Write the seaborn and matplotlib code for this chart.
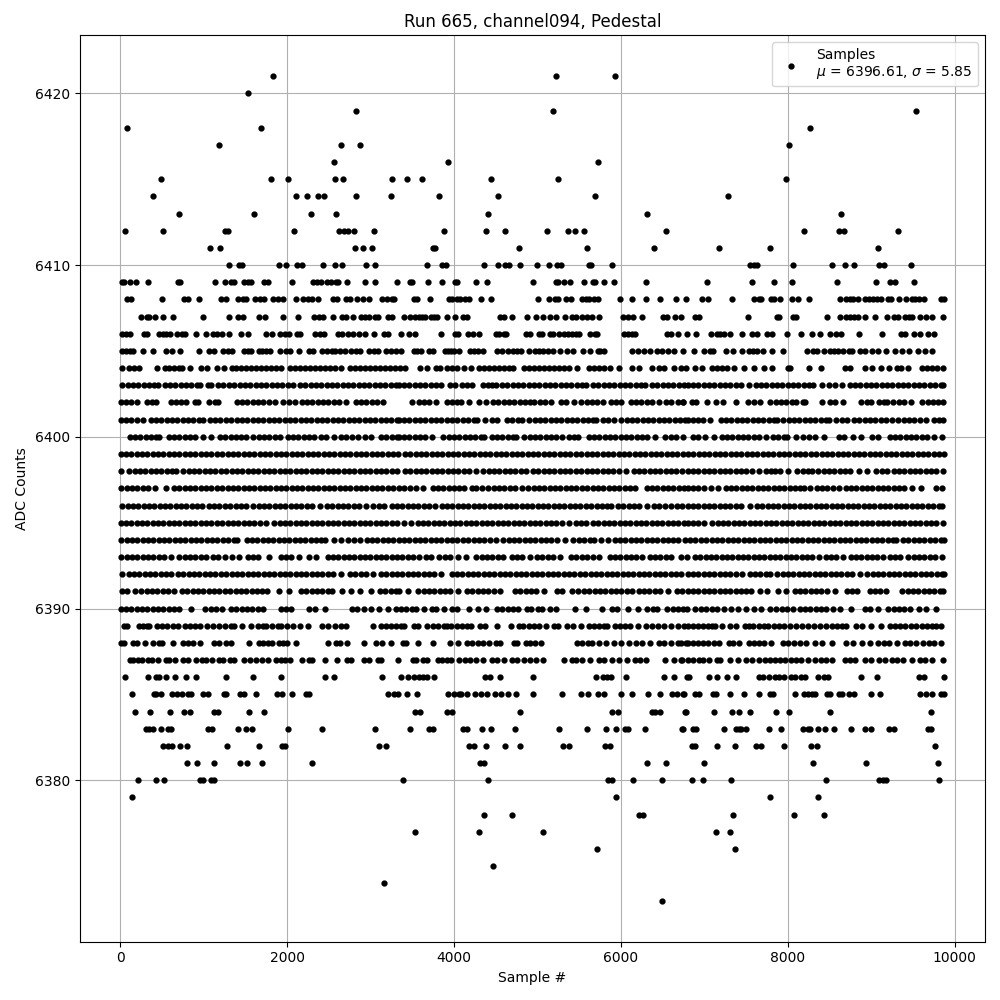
import matplotlib
matplotlib.use('Agg')
import matplotlib.pyplot as plt
import pandas as pd
import seaborn as sns

# sample numbers for each ADC level
s6421 = [1834, 5220, 5928]
s6420 = [1534]
s6419 = [2830, 5184, 9538]
s6418 = [82, 1690, 8266]
s6417 = [1186, 2650, 2878, 8014]
s6416 = [2566, 3924, 5724]
s6415 = [490, 1810, 2014, 2578, 2674, 3262, 3432, 3612, 4440, 5244, 7978]
s6414 = [394, 2110, 2242, 2374, 2446, 2830, 3250, 3816, 4524, 5688, 7282]
s6413 = [706, 1606, 2290, 2590, 4404, 6312, 8638]
s6412 = [58, 514, 1262, 1294, 2086, 2626, 2686, 2734, 2806, 3046, 3876, 4380, 4608, 5112, 5364, 5448, 5556, 6540, 8194, 8614, 8674, 9322]
s6411 = [1078, 1198, 2818, 2914, 3022, 3752, 3772, 4776, 5592, 6396, 7174, 7786, 9082]
s6410 = [1306, 1426, 1462, 1906, 1990, 2122, 2182, 2434, 2578, 2662, 2950, 3058, 3672, 3852, 3900, 4356, 4524, 4608, 4656, 4788, 4992, 5136, 5232, 5280, 5616, 5640, 5892, 7546, 7594, 7630, 8062, 8530, 8686, 8794, 9094, 9154, 9478]
s6409 = [22, 50, 122, 190, 334, 694, 722, 1138, 1258, 1330, 1366, 1486, 1534, 1570, 1726, 1774, 2062, 2314, 2362, 2410, 2482, 2530, 2590, 2614, 2722, 2938, 3058, 3322,
         3472, 3496, 3684, 3852, 4008, 4032, 4260, 4392, 4944, 5220, 5244, 5316, 5388, 5556, 5664, 5688, 5796, 5916, 6300,
         7030, 7570, 7834, 8050, 8590, 9058, 9226, 9286, 9514]
s6408 = [82, 130, 502, 766, 814, 946, 1210, 1270, 1414, 1474, 1510, 1618, 1678, 1726, 1834, 1894, 1954, 2110, 2194, 2254, 2302, 2374, 2554, 2602, 2710, 2758, 2842, 2914, 2986, 3142, 3202, 3262, 3286,
         3516, 3552, 3708, 3936, 3972, 4032, 4068, 4128, 4176, 4320, 4440, 5004, 5136, 5208, 5244, 5340, 5400, 5532, 5580, 5616, 5676, 5724, 5988, 6132, 6300, 6468, 6660, 6780,
         6970, 7042, 7330, 7594, 7654, 7678, 7798, 7834, 7906, 8050, 8122, 8254, 8626, 8698, 8746, 8782, 8842, 8926, 8974, 9022, 9070, 9118, 9202, 9238, 9334, 9418, 9490, 9526, 9574, 9634, 9838, 9868]
s6407 = [250, 322, 346, 418, 514, 634, 994, 1306, 1414, 1474, 1666, 1738, 1954, 2134, 2326, 2386, 2434, 2546, 2662, 2710, 2786, 2890, 2938, 2986, 3058, 3094, 3214, 3262,
         3396, 3468, 3528, 3576, 3612, 3648, 3720, 3756, 3792, 3912, 4008, 4104, 4152, 4548, 4596, 4692, 4872, 4980, 5064, 5148, 5220, 5328, 5412, 5460, 5532, 5592, 5652, 5736, 6024, 6084, 6144, 6252, 6504, 6552, 6648, 6720,
         6886, 6934, 7522, 7870, 7894, 8062, 8098, 8470, 8626, 8698, 8746, 8794, 8842, 8926, 9046, 9190, 9274, 9322, 9406, 9454, 9490, 9586, 9658, 9730, 9862]
s6406 = [22, 70, 118, 286, 322, 466, 514, 550, 598, 682, 742, 778, 910, 1030, 1114, 1162, 1222, 1306, 1450, 1534, 1750, 1822, 1918, 1978, 2026, 2122, 2158, 2338, 2398, 2446, 2614, 2662, 2734, 2794, 2866, 2938, 3046, 3166, 3214,
         3360, 3456, 3528, 3840, 4008, 4044, 4164, 4224, 4296, 4500, 4536, 4596, 4620, 4860, 4908, 5016, 5052, 5148, 5184, 5256, 5316, 5364, 5412, 5460, 5496, 5628, 5688, 5712, 6036, 6084, 6132, 6168, 6552, 6600, 6684,
         6790, 6898, 7078, 7150, 7186, 7234, 7306, 7450, 7570, 7630, 7750, 7810, 7990, 8158, 8290, 8386, 8506, 8578, 8638, 8854, 9130, 9358, 9406, 9514, 9586, 9682, 9754]
s6405 = [22, 70, 118, 154, 274, 394, 550, 622, 718, 946, 1066, 1126, 1234, 1294, 1342, 1486, 1534, 1570, 1666, 1702, 1750, 1798, 1918, 1990, 2038, 2146, 2266, 2314, 2422, 2482, 2542, 2578, 2638, 2698, 2770, 2830, 2878, 2986, 3046, 3094, 3190, 3250, 3310,
         3360, 3516, 3552, 3600, 3696, 3744, 3888, 3924, 3960, 3996, 4056, 4188, 4236, 4284, 4344, 4512, 4572, 4644, 4704, 4752, 4800, 4896, 4968, 5016, 5064, 5124, 5184, 5268, 5352, 5424, 5544, 5628, 5724, 5748, 5796, 6132, 6204, 6276, 6348, 6432, 6492, 6564, 6636, 6744,
         6874, 6994, 7066, 7102, 7258, 7342, 7450, 7534, 7582, 7630, 7702, 7810, 7942, 8230, 8302, 8350, 8434, 8506, 8554, 8602, 8662, 8734, 8770, 8866, 8926, 9010, 9082, 9178, 9286, 9370, 9454, 9562, 9646, 9730]
s6404 = [22, 110, 166, 230, 442, 534, 590, 650, 710, 742, 838, 966, 1038, 1166, 1250, 1334, 1390, 1450, 1510, 1570, 1630, 1690, 1750, 1810, 1870, 1930, 2034, 2090, 2150, 2210, 2270, 2330, 2390, 2450, 2510, 2570, 2650, 2754, 2810, 2870, 2930, 2990, 3050, 3110, 3170, 3230, 3290,
         3350, 3410, 3596, 3680, 3784, 3828, 3916, 3976, 4036, 4120, 4200, 4304, 4364, 4424, 4484, 4544, 4604, 4664, 4712, 4844, 4904, 4964, 5024, 5084, 5144, 5204, 5264, 5324, 5384, 5470, 5612, 5672, 5732, 5792, 5872, 5972, 6136, 6212, 6376, 6452, 6520, 6636, 6720, 6780,
         6886, 6974, 7086, 7146, 7206, 7266, 7350, 7474, 7590, 7718, 7810, 7998, 8022, 8254, 8394, 8682, 8750, 8922, 9010, 9114, 9210, 9314, 9358, 9446, 9614, 9674, 9734, 9790, 9862]
s6403 = [26, 90, 154, 218, 282, 346, 410, 450, 534, 598, 662, 726, 790, 854, 918, 958, 1054, 1090, 1174, 1238, 1302, 1366, 1430, 1494, 1558, 1622, 1686, 1750, 1814, 1878, 1942, 2006, 2070,
         2154, 2218, 2282, 2346, 2410, 2474, 2538, 2602, 2666, 2730, 2794, 2858, 2922, 2986, 3050, 3114, 3178, 3242, 3306, 3338, 3402, 3466, 3530, 3594, 3658, 3722, 3786, 3840, 3956, 4012, 4092, 4152, 4212,
         4348, 4412, 4456, 4500, 4576, 4640, 4704, 4768, 4832, 4896, 4960, 5024, 5088, 5152, 5216, 5280, 5344, 5408, 5472, 5536, 5580, 5664, 5728, 5792, 5856, 5920, 5984, 6048, 6112, 6176, 6240, 6292,
         6372, 6436, 6500, 6564, 6628, 6692, 6756, 6800, 6864, 6928, 6992, 7056, 7120, 7184, 7248, 7312, 7376, 7440, 7530, 7614, 7678, 7742, 7806, 7870, 7934, 7998, 8062, 8126, 8190, 8254, 8302, 8406, 8494, 8570, 8650,
         8742, 8806, 8870, 8934, 8998, 9062, 9126, 9190, 9254, 9318, 9382, 9446, 9510, 9574, 9638, 9702, 9766, 9830, 9862]
s6402 = [6, 66, 130, 198, 326, 378, 430, 606, 666, 726, 790, 894, 930, 1070, 1142, 1178, 1394, 1458, 1522, 1586, 1650, 1714, 1778, 1858, 1954, 2018, 2090, 2174, 2238, 2302, 2366, 2430, 2494, 2558, 2622, 2706, 2822, 2886, 2950, 3014, 3078, 3150,
         3492, 3584, 3644, 3704, 3780, 3912, 3976, 4040, 4080, 4184, 4300, 4380, 4468, 4532, 4596, 4660, 4724, 4788, 4852, 4916, 4960, 5036, 5096, 5160, 5284, 5348, 5440, 5524, 5588, 5652, 5716, 5780, 5880, 5944, 6000, 6116, 6180, 6244, 6308, 6372, 6460, 6536, 6604, 6684, 6740,
         6750, 6854, 6902, 7030, 7142, 7222, 7374, 7522, 7590, 7662, 7790, 7854, 7918, 7982, 8046, 8094, 8182, 8210, 8406, 8506, 8570, 8662, 8882, 8948, 8998, 9094, 9154, 9190, 9266, 9330, 9394, 9478, 9614, 9678, 9742, 9802, 9862]
s6401 = [8, 70, 134, 198, 278, 366, 430, 494, 558, 622, 686, 750, 814, 878, 942, 990, 1074, 1138, 1202, 1266, 1330, 1394, 1458, 1522, 1586, 1650, 1714, 1778, 1842, 1906, 1970, 2034, 2098, 2162, 2226, 2290, 2354, 2418, 2482, 2546, 2610, 2674, 2738, 2802, 2866, 2930, 2994, 3058, 3122, 3186, 3250, 3314,
         3338, 3402, 3466, 3530, 3594, 3658, 3722, 3786, 3850, 3914, 3978, 4042, 4106, 4170, 4234, 4272, 4368, 4452, 4520, 4636, 4700, 4764, 4820, 4904, 4968, 5032, 5096, 5160, 5224, 5288, 5352, 5416, 5480, 5544, 5608, 5660, 5700, 5784, 5848, 5920,
         6004, 6068, 6132, 6196, 6260, 6324, 6388, 6452, 6516, 6580, 6644, 6708, 6772, 6800, 6864, 6928, 6982, 7062, 7194, 7258, 7322, 7386, 7450, 7514, 7578, 7642, 7706, 7770, 7834, 7870, 7946, 8010, 8074, 8138, 8202, 8266, 8330, 8394, 8458, 8490, 8582, 8646, 8710,
         8794, 8858, 8922, 8986, 9050, 9114, 9178, 9250, 9326, 9390, 9454, 9518, 9582, 9658, 9750, 9806, 9862]
s6400 = [114, 178, 242, 306, 370, 430, 470, 582, 646, 710, 774, 838, 902, 990, 1094, 1194, 1258, 1322, 1386, 1450, 1502, 1594, 1658, 1722, 1786, 1850, 1918, 2006, 2070, 2134, 2198, 2262, 2318, 2406, 2470, 2558, 2646, 2710, 2774, 2850, 2934, 3010, 3126, 3190, 3254, 3318, 3342,
         3400, 3464, 3528, 3592, 3656, 3740, 3872, 3936, 4000, 4064, 4128, 4192, 4256, 4320, 4360, 4452, 4516, 4580, 4644, 4708, 4748, 4844, 4908, 4972, 5036, 5100, 5164, 5228, 5300, 5384, 5440, 5492, 5612, 5676, 5740, 5804, 5868, 5932, 5996, 6060, 6124, 6188, 6252, 6316, 6412, 6532, 6596, 6660, 6748,
         6866, 6930, 7006, 7110, 7206, 7270, 7334, 7398, 7462, 7526, 7590, 7654, 7742, 7822, 7886, 7950, 7990, 8098, 8186, 8250, 8322, 8430, 8614, 8678, 8782, 8882, 9014, 9086, 9222, 9286, 9350, 9414, 9478, 9542, 9606, 9670, 9758, 9842]
s6399 = [8, 70, 134, 198, 262, 326, 390, 454, 518, 582, 646, 710, 774, 838, 902, 966, 1030, 1094, 1158, 1222, 1286, 1350, 1414, 1478, 1542, 1606, 1670, 1734, 1798, 1862, 1926, 1990, 2054, 2118, 2182, 2246, 2310, 2374, 2438, 2502, 2566, 2630, 2694, 2758, 2822, 2886, 2950, 3014, 3078, 3142, 3206, 3270, 3334,
         3412, 3476, 3540, 3604, 3668, 3732, 3796, 3860, 3924, 3988, 4052, 4116, 4180, 4244, 4308, 4372, 4436, 4500, 4564, 4628, 4692, 4756, 4820, 4884, 4948, 5012, 5076, 5140, 5204, 5268, 5332, 5396, 5460, 5524, 5588, 5652, 5716, 5780, 5844, 5908, 5972, 6036, 6100, 6164, 6228, 6292, 6356, 6420, 6484, 6548, 6612, 6676, 6740, 6804,
         6868, 6932, 6996, 7060, 7124, 7188, 7252, 7316, 7380, 7444, 7508, 7572, 7636, 7700, 7764, 7828, 7892, 7956, 8020, 8084, 8148, 8212, 8276, 8340, 8404, 8468, 8532, 8596, 8660, 8724, 8788, 8852, 8916, 8980, 9044, 9108, 9172, 9236, 9300, 9364, 9428, 9492, 9556, 9620, 9684, 9748, 9812, 9866]
s6398 = [14, 110, 174, 238, 302, 366, 430, 494, 558, 622, 670, 758, 822, 886, 950, 1014, 1078, 1142, 1206, 1270, 1334, 1398, 1462, 1526, 1590, 1654, 1718, 1782, 1846, 1910, 1974, 2038, 2102, 2166, 2230, 2294, 2358, 2422, 2486, 2550, 2614, 2678, 2742, 2806, 2870, 2934, 2998, 3062, 3126, 3190, 3254, 3318,
         3412, 3476, 3540, 3604, 3668, 3732, 3796, 3860, 3924, 3988, 4052, 4116, 4180, 4260, 4352, 4416, 4480, 4544, 4608, 4672, 4736, 4800, 4860, 4948, 5012, 5076, 5140, 5204, 5268, 5332, 5396, 5460, 5524, 5588, 5652, 5716, 5780, 5844, 5908, 5972, 6060, 6152, 6216, 6280, 6344, 6408, 6472, 6536, 6600, 6664, 6728, 6800,
         6864, 6928, 6992, 7056, 7120, 7184, 7248, 7312, 7376, 7440, 7504, 7568, 7650, 7734, 7798, 7850, 7902, 7998, 8114, 8178, 8242, 8286, 8366, 8430, 8494, 8558, 8622, 8686, 8750, 8850, 8946, 9062, 9126, 9190, 9270, 9334, 9398, 9462, 9526, 9590, 9654, 9718, 9782, 9862]
s6397 = [14, 78, 142, 206, 270, 334, 418, 550, 646, 710, 774, 838, 902, 966, 1030, 1094, 1158, 1222, 1286, 1350, 1414, 1478, 1542, 1606, 1670, 1734, 1798, 1862, 1926, 1990, 2054, 2118, 2182, 2246, 2310, 2374, 2438, 2502, 2566, 2630, 2694, 2758, 2822, 2886, 2950, 3014, 3078, 3142, 3206, 3270, 3342,
         3406, 3470, 3548, 3632, 3744, 3808, 3872, 3936, 4000, 4064, 4120, 4220, 4260, 4332, 4412, 4476, 4540, 4604, 4668, 4732, 4812, 4892, 4956, 5020, 5084, 5148, 5212, 5276, 5340, 5404, 5468, 5532, 5596, 5660, 5724, 5788, 5852, 5916, 5980, 6044, 6108, 6164, 6308, 6372, 6436, 6500, 6564, 6628, 6692, 6756, 6800,
         6864, 6928, 6998, 7074, 7158, 7254, 7318, 7382, 7446, 7510, 7574, 7638, 7702, 7766, 7830, 7894, 7958, 8022, 8086, 8150, 8190, 8266, 8346, 8410, 8474, 8538, 8610, 8694, 8758, 8822, 8886, 8950, 9014, 9078, 9142, 9206, 9270, 9334, 9398, 9490, 9594, 9782, 9850]
s6396 = [26, 90, 154, 218, 282, 346, 410, 474, 538, 602, 666, 730, 794, 858, 922, 982, 1062, 1126, 1190, 1254, 1318, 1382, 1446, 1510, 1594, 1658, 1722, 1786, 1850, 1914, 1978, 2042, 2106, 2170, 2234, 2298, 2398, 2478, 2542, 2606, 2670, 2734, 2798, 2862, 2942, 3034, 3096, 3158, 3254, 3318,
         3382, 3446, 3510, 3574, 3638, 3702, 3772, 3852, 3916, 3980, 4044, 4108, 4172, 4236, 4300, 4364, 4428, 4492, 4556, 4620, 4684, 4748, 4812, 4876, 4940, 5004, 5068, 5132, 5196, 5260, 5324, 5388, 5452, 5516, 5580, 5644, 5708, 5772, 5836, 5880, 5964, 6028, 6092, 6156, 6220, 6316, 6396, 6460, 6524, 6604, 6668, 6732, 6800,
         6864, 6928, 6992, 7056, 7120, 7184, 7248, 7312, 7376, 7440, 7550, 7630, 7694, 7758, 7822, 7886, 7950, 8014, 8078, 8142, 8206, 8270, 8334, 8398, 8462, 8526, 8590, 8654, 8718, 8782, 8846, 8910, 8974, 9038, 9102, 9166, 9230, 9294, 9358, 9422, 9486, 9550, 9614, 9678, 9742, 9806, 9850]
s6395 = [6, 70, 134, 198, 262, 326, 390, 454, 518, 582, 646, 710, 774, 838, 902, 966, 1030, 1094, 1158, 1222, 1286, 1350, 1414, 1478, 1542, 1606, 1670, 1750, 1846, 1910, 1974, 2038, 2102, 2166, 2230, 2294, 2358, 2422, 2486, 2550, 2614, 2678, 2742, 2806, 2870, 2934, 2998, 3062, 3126, 3190, 3254, 3318,
         3404, 3484, 3564, 3628, 3692, 3756, 3820, 3884, 3948, 4012, 4076, 4140, 4204, 4268, 4332, 4396, 4460, 4524, 4588, 4652, 4716, 4780, 4844, 4908, 4972, 5036, 5100, 5164, 5228, 5292, 5380, 5464, 5520, 5580, 5664, 5728, 5792, 5856, 5920, 5984, 6048, 6112, 6176, 6240, 6304, 6368, 6432, 6496, 6560, 6624, 6688, 6752, 6800,
         6864, 6928, 7000, 7094, 7158, 7222, 7286, 7350, 7414, 7478, 7542, 7606, 7670, 7734, 7798, 7862, 7926, 7990, 8054, 8118, 8182, 8246, 8310, 8374, 8438, 8502, 8566, 8630, 8694, 8758, 8822, 8886, 8950, 9014, 9078, 9142, 9206, 9270, 9334, 9398, 9462, 9526, 9590, 9654, 9718, 9782, 9862]
s6394 = [14, 78, 142, 206, 270, 334, 398, 462, 526, 590, 654, 718, 782, 846, 910, 974, 1038, 1102, 1166, 1230, 1294, 1358, 1398, 1514, 1578, 1642, 1706, 1770, 1834, 1898, 1962, 2026, 2090, 2154, 2218, 2282, 2346, 2410, 2458, 2562, 2650, 2734, 2800, 2870, 2954, 3018, 3082, 3146, 3210, 3274, 3338,
         3402, 3466, 3530, 3594, 3658, 3722, 3786, 3850, 3914, 3978, 4042, 4106, 4170, 4234, 4298, 4362, 4426, 4508, 4592, 4656, 4720, 4784, 4848, 4912, 4976, 5040, 5104, 5168, 5232, 5328, 5432, 5496, 5560, 5624, 5672, 5756, 5840, 5924, 5988, 6052, 6116, 6180, 6244, 6308, 6372, 6436, 6500, 6564, 6628, 6680, 6764,
         6830, 6894, 6958, 7022, 7086, 7150, 7214, 7278, 7342, 7406, 7470, 7534, 7598, 7662, 7726, 7790, 7854, 7918, 7982, 8046, 8110, 8174, 8238, 8302, 8366, 8430, 8494, 8558, 8622, 8686, 8750, 8814, 8878, 8942, 9006, 9070, 9134, 9198, 9262, 9302, 9382, 9446, 9510, 9574, 9638, 9702, 9766, 9830, 9870]
s6393 = [14, 78, 142, 206, 270, 334, 398, 462, 526, 610, 710, 774, 838, 902, 966, 1030, 1110, 1178, 1254, 1336, 1418, 1534, 1590, 1650, 1782, 1926, 1990, 2050, 2142, 2262, 2350, 2486, 2550, 2614, 2678, 2742, 2806, 2870, 2934, 2998, 3062, 3126, 3190, 3254, 3318,
         3382, 3446, 3510, 3580, 3664, 3720, 3824, 3888, 3952, 4048, 4148, 4268, 4332, 4396, 4460, 4524, 4588, 4692, 4756, 4820, 4908, 4996, 5060, 5124, 5188, 5268, 5404, 5468, 5532, 5596, 5660, 5740, 5864, 5928, 5992, 6056, 6120, 6184, 6252, 6344, 6408, 6472, 6536, 6600, 6724, 6790,
         6886, 6950, 7014, 7078, 7142, 7206, 7270, 7334, 7398, 7462, 7526, 7590, 7654, 7718, 7782, 7846, 7910, 7974, 8038, 8102, 8166, 8230, 8294, 8370, 8462, 8522, 8582, 8666, 8754, 8818, 8882, 8946, 9010, 9074, 9142, 9222, 9282, 9342, 9446, 9510, 9574, 9638, 9702, 9766, 9850]
s6392 = [18, 102, 166, 230, 294, 358, 422, 486, 550, 610, 694, 758, 822, 886, 950, 1014, 1078, 1142, 1206, 1270, 1334, 1398, 1462, 1526, 1590, 1654, 1718, 1782, 1846, 1910, 1974, 2038, 2102, 2166, 2230, 2294, 2358, 2422, 2486, 2550, 2642, 2754, 2818, 2882, 2946, 3030, 3126, 3190, 3254, 3318,
         3382, 3446, 3510, 3574, 3638, 3702, 3766, 3848, 3972, 4036, 4100, 4164, 4228, 4292, 4356, 4420, 4484, 4548, 4612, 4676, 4740, 4804, 4868, 4932, 4996, 5060, 5124, 5188, 5252, 5316, 5380, 5444, 5508, 5572, 5636, 5700, 5764, 5828, 5892, 5956, 6020, 6084, 6148, 6212, 6276, 6340, 6404, 6468, 6532, 6596, 6660, 6724, 6800,
         6864, 6928, 6992, 7056, 7120, 7184, 7248, 7312, 7376, 7450, 7542, 7606, 7670, 7734, 7790, 7874, 7938, 8002, 8066, 8130, 8194, 8258, 8322, 8386, 8450, 8514, 8578, 8642, 8706, 8770, 8870, 8954, 9018, 9082, 9146, 9210, 9274, 9338, 9402, 9466, 9530, 9594, 9658, 9722, 9786, 9850, 9870]
s6391 = [22, 86, 174, 254, 318, 382, 446, 510, 574, 650, 742, 806, 870, 934, 998, 1062, 1126, 1190, 1254, 1318, 1382, 1446, 1510, 1574, 1638, 1702, 1758, 1906, 2026, 2166, 2230, 2294, 2358, 2422, 2486, 2542, 2662, 2770, 2870, 3010, 3114, 3178, 3242, 3306, 3342,
         3444, 3572, 3636, 3700, 3764, 3828, 3892, 3956, 4052, 4156, 4220, 4284, 4348, 4412, 4476, 4548, 4732, 4796, 4860, 4924, 4988, 5080, 5236, 5300, 5412, 5492, 5556, 5620, 5684, 5748, 5812, 5876, 5940, 6004, 6068, 6132, 6212, 6276, 6340, 6404, 6468, 6560, 6668, 6732, 6800,
         6864, 6928, 6992, 7056, 7120, 7184, 7248, 7312, 7376, 7440, 7504, 7558, 7670, 7754, 7878, 7974, 8082, 8146, 8210, 8274, 8338, 8402, 8466, 8570, 8714, 8770, 8830, 8982, 9046, 9110, 9182, 9374, 9438, 9502, 9566, 9630, 9694, 9758, 9822, 9862]
s6390 = [6, 70, 134, 198, 262, 326, 390, 454, 518, 582, 646, 702, 850, 1022, 1086, 1150, 1222, 1326, 1390, 1454, 1518, 1582, 1646, 1710, 1926, 1990, 2050, 2262, 2330, 2454, 2782, 2838, 2926, 3010, 3102, 3206, 3302,
         3364, 3428, 3492, 3548, 3636, 3732, 3780, 3880, 3980, 4040, 4184, 4284, 4388, 4516, 4580, 4644, 4708, 4772, 4876, 4920, 5004, 5060, 5148, 5220, 5452, 5580, 5772, 5892, 5948, 6084, 6200, 6316, 6380, 6428, 6556, 6620, 6684, 6748, 6798,
         6894, 6958, 7022, 7086, 7150, 7234, 7316, 7398, 7494, 7590, 7682, 7782, 7862, 7926, 7990, 8062, 8142, 8206, 8270, 8334, 8398, 8462, 8542, 8630, 8762, 8926, 8990, 9082, 9206, 9270, 9334, 9390, 9462, 9570, 9662, 9774]
s6389 = [46, 82, 226, 274, 322, 346, 442, 502, 562, 634, 694, 778, 838, 898, 958, 1042, 1114, 1186, 1258, 1330, 1366, 1462, 1570, 1654, 1714, 1750, 1822, 1894, 1930, 2002, 2074, 2158, 2254, 2422, 2494, 2578, 2650, 2710, 3034, 3130, 3190, 3250, 3310,
         3360, 3396, 3516, 3564, 3672, 3744, 3804, 3876, 3912, 3960, 4032, 4092, 4152, 4200, 4308, 4368, 4512, 4680, 4776, 4824, 4896, 4956, 5016, 5100, 5196, 5244, 5352, 5424, 5520, 5616, 5676, 5736, 5796, 5832, 5928, 5988, 6048, 6108, 6204, 6300, 6372, 6444, 6516, 6600, 6684, 6756, 6804,
         6862, 6922, 6982, 7042, 7090, 7126, 7210, 7306, 7378, 7486, 7534, 7582, 7654, 7714, 7762, 7834, 7894, 7954, 8026, 8098, 8170, 8242, 8314, 8386, 8458, 8530, 8590, 8650, 8698, 8818, 8890, 8998, 9118, 9226, 9286, 9346, 9406, 9478, 9538, 9610, 9670, 9730, 9778, 9838]
s6388 = [10, 46, 154, 202, 298, 394, 466, 502, 634, 754, 814, 874, 958, 1126, 1186, 1270, 1330, 1542, 1666, 1714, 1774, 1822, 1906, 1954, 2002, 2110, 2494, 2590, 2638, 2722, 2926, 3070, 3142, 3250,
         3384, 3420, 3564, 3744, 3948, 4044, 4152, 4212, 4284, 4344, 4416, 4500, 4548, 4716, 4752, 4860, 4908, 4968, 5040, 5472, 5532, 5604, 5652, 5736, 5820, 5916, 6000, 6096, 6180, 6252, 6348, 6456, 6516, 6600, 6684, 6780,
         6718, 6802, 6862, 6922, 6982, 7042, 7114, 7174, 7294, 7342, 7414, 7534, 7594, 7654, 7714, 7798, 7942, 8002, 8074, 8146, 8218, 8326, 8410, 8530, 8698, 8782, 8890, 8986, 9082, 9154, 9214, 9310, 9406, 9466, 9538, 9622, 9694, 9754, 9838]
s6387 = [118, 154, 214, 262, 334, 382, 454, 550, 586, 658, 754, 814, 910, 982, 1030, 1102, 1186, 1234, 1318, 1366, 1486, 1558, 1630, 1702, 1774, 1870, 1930, 1978, 2038, 2182, 2266, 2302, 2458, 2602, 2722, 2770, 2926, 2986, 3094, 3130, 3334,
         3504, 3540, 3624, 3672, 3804, 3852, 3912, 3960, 4056, 4128, 4188, 4260, 4344, 4452, 4512, 4596, 4692, 4752, 4836, 4908, 4980, 5064, 5316, 5412, 5460, 5532, 5628, 5736, 5796, 5892, 5976, 6072, 6168, 6228, 6300, 6528, 6636, 6720,
         6730, 6802, 6862, 6934, 6982, 7054, 7150, 7186, 7306, 7402, 7498, 7570, 7654, 7726, 7786, 7846, 7906, 7966, 8038, 8098, 8158, 8242, 8326, 8398, 8458, 8530, 8686, 8746, 8806, 8926, 8998, 9094, 9166, 9250, 9310, 9382, 9490, 9586, 9646, 9730, 9862]
s6386 = [58, 334, 430, 466, 550, 658, 790, 910, 1270, 1594, 1930, 2458, 2566, 3142, 3360, 3444, 3516, 3576, 3624, 3672, 3756, 4368, 4428, 4548, 4944, 5700, 5784, 5832, 5880, 6060, 6516, 6636, 6792,
         6814, 7054, 7150, 7270, 7378, 7654, 7702, 7774, 7846, 7894, 7954, 8038, 8086, 8158, 8206, 8362, 8434, 8482, 8878, 9070, 9574, 9634, 9868]
s6385 = [142, 406, 430, 490, 622, 682, 742, 814, 850, 994, 1054, 1246, 1270, 1438, 1486, 1630, 1882, 1942, 2062, 2230, 2266, 3214, 3286, 3334, 3432, 3552, 3924, 3996, 4056, 4080, 4152, 4248, 4320, 4392, 4488, 4560, 4644, 4740, 4944, 5292, 5520, 5604, 5724, 5796, 6000, 6132, 6324, 6468, 6612, 6672, 6744,
         6754, 6886, 6934, 7102, 7138, 7306, 7474, 7654, 7786, 7822, 8086, 8194, 8242, 8290, 8326, 8470, 8506, 8614, 8650, 8734, 8794, 8998, 9106, 9586, 9658, 9730, 9838, 9870]
s6384 = [178, 358, 598, 766, 838, 1126, 1174, 1546, 1726, 3528, 3588, 3912, 3972, 4788, 5892, 5964, 6372, 6408, 6468, 6768, 6778, 7114, 7330, 7414, 7546, 7858, 8014, 8506, 9718]
s6383 = [310, 346, 394, 490, 574, 610, 1054, 1102, 1414, 1510, 1582, 2014, 2422, 3058, 3468, 3696, 3744, 4104, 4152, 4332, 4440, 4728, 5256, 5592, 5820, 5940, 6048, 6084, 6288, 6732,
         6742, 6862, 6898, 7234, 7378, 7414, 7438, 7498, 7774, 7918, 8182, 8242, 8266, 8362, 8446, 8554, 8754, 8926, 8998, 9214, 9274, 9682, 9718]
s6382 = [514, 574, 622, 718, 802, 1282, 1666, 1942, 1978, 3106, 3190, 4176, 4236, 4380, 4608, 4788, 5304, 5376, 5808, 5868, 6850, 6886, 7150, 7366, 7618, 7678, 7954, 8278, 8350, 9766]
s6381 = [802, 922, 1126, 1438, 1522, 1702, 2302, 4308, 4356, 6312, 6540, 6994, 8302, 8938, 9802]
s6380 = [214, 430, 526, 958, 994, 1090, 1126, 3384, 4404, 5844, 5892, 6144, 6492, 6850, 6982, 7318, 8458, 9094, 9142, 9178, 9814]
s6379 = [142, 5940, 7786, 8362]
s6378 = [4356, 4692, 6216, 6264, 7342, 8074, 8434]
s6377 = [3528, 4296, 5064, 7138, 7306]
s6376 = [5712, 7366]
s6375 = [4464]
s6374 = [3166]
s6373 = [6492]

rows = {6421: s6421, 6420: s6420, 6419: s6419, 6418: s6418, 6417: s6417, 6416: s6416, 6415: s6415, 6414: s6414,
        6413: s6413, 6412: s6412, 6411: s6411, 6410: s6410, 6409: s6409, 6408: s6408, 6407: s6407, 6406: s6406,
        6405: s6405, 6404: s6404, 6403: s6403, 6402: s6402, 6401: s6401, 6400: s6400, 6399: s6399, 6398: s6398,
        6397: s6397, 6396: s6396, 6395: s6395, 6394: s6394, 6393: s6393, 6392: s6392, 6391: s6391, 6390: s6390,
        6389: s6389, 6388: s6388, 6387: s6387, 6386: s6386, 6385: s6385, 6384: s6384, 6383: s6383, 6382: s6382,
        6381: s6381, 6380: s6380, 6379: s6379, 6378: s6378, 6377: s6377, 6376: s6376, 6375: s6375, 6374: s6374,
        6373: s6373}

df = pd.DataFrame([(x, lvl) for lvl, xs in rows.items() for x in xs], columns=['sample', 'adc'])

fig, ax = plt.subplots(figsize=(10, 10), dpi=100)
sns.scatterplot(data=df, x='sample', y='adc', ax=ax, color='black', marker='.', s=36, edgecolor='black', linewidth=1.5,
                label='Samples\n$\\mu$ = 6396.61, $\\sigma$ = 5.85')
ax.set_axisbelow(True)
ax.grid(True)
ax.set_title('Run 665, channel094, Pedestal')
ax.set_xlabel('Sample #')
ax.set_ylabel('ADC Counts')
ax.legend(loc='upper right')
plt.tight_layout()
fig.subplots_adjust(top=0.965)
plt.savefig('out.png')
